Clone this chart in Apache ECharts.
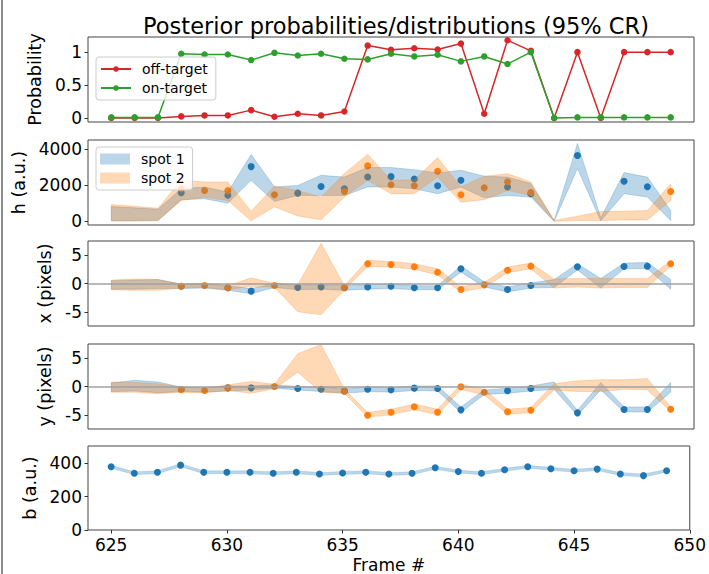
<!DOCTYPE html>
<html><head><meta charset="utf-8">
<script src="https://cdn.jsdelivr.net/npm/echarts@6/dist/echarts.min.js"></script>
<style>html,body{margin:0;padding:0;background:#fff}#c{width:709px;height:574px}</style>
</head><body><div id="c"></div>
<script>
const frames = [625,626,627,628,629,630,631,632,633,634,635,636,637,638,639,640,641,642,643,644,645,646,647,648,649];
const xTicks = [625,630,635,640,645,650];

// Panel 1: probabilities
const offTarget = [0.0,0.0,0.0,0.025,0.04,0.04,0.12,0.02,0.065,0.04,0.10,1.10,1.035,1.06,1.04,1.13,0.065,1.18,1.02,0.0,1.0,0.0,1.0,1.0,1.0];
const onTarget  = [0.01,0.01,0.01,0.975,0.965,0.965,0.88,0.99,0.95,0.975,0.90,0.89,0.975,0.935,0.96,0.86,0.935,0.82,1.0,0.0,0.01,0.01,0.01,0.01,0.01];
const probTicks = [0,0.5,1];

// Panel 2: h
const h1 = [null,null,null,1580,null,1440,3030,null,1560,1930,1800,2455,2475,2345,1970,2270,null,1900,1530,null,3645,null,2215,1915,null];
const h2 = [null,null,null,1800,1710,1700,null,1470,null,null,1650,3070,2030,1970,2770,1470,1860,2195,1600,null,null,null,null,null,1655];
const h1Lo = [30,30,40,1200,1250,1000,2270,1100,1430,1430,1430,1900,1900,1800,1530,1900,1300,1430,1340,0,2920,20,1530,1340,40];
const h1Hi = [820,745,670,1800,1900,1620,3700,1900,1990,2550,2450,2980,2980,2860,2680,2830,2500,2450,2080,50,4315,200,2700,2450,600];
const h2Lo = [20,20,40,1150,1340,1150,30,800,300,80,1350,2270,1530,1530,2455,1060,1200,1710,1430,0,40,40,75,75,1150];
const h2Hi = [930,840,725,2270,2180,2180,550,1950,1700,1330,2650,3720,2270,2300,3530,1900,2500,2640,2180,50,280,540,560,600,2080];
const hTicks = [0,2000,4000];

// Panel 3: x
const x1 = [null,null,null,-0.47,null,-0.76,-1.35,null,-0.7,-0.6,-0.76,-0.6,-0.47,-0.76,-0.76,2.6,null,-1.06,-0.35,null,2.94,null,3.0,3.06,null];
const x2 = [null,null,null,-0.47,-0.35,-0.76,null,-0.35,null,null,-0.76,3.5,3.35,2.94,2.0,-1.06,-0.24,2.35,3.06,null,null,null,null,null,3.47];
const x1Lo = [-1.0,-1.0,-0.9,-0.9,-0.8,-1.2,-1.8,-0.7,-1.1,-1.0,-1.2,-1.0,-0.9,-1.1,-1.1,2.0,-0.6,-1.5,-0.8,-0.7,2.4,-0.8,2.6,2.6,-1.0];
const x1Hi = [0.5,0.6,0.7,-0.1,0.0,-0.4,-0.9,0.0,-0.3,-0.2,-0.4,-0.2,-0.1,-0.4,-0.4,3.1,0.3,-0.6,0.1,0.7,3.5,0.9,3.6,3.7,0.7];
const x2Lo = [-1.1,-1.2,-1.2,-0.8,-0.7,-1.1,-0.5,-0.7,-5.0,-5.5,-1.1,3.0,2.9,2.5,1.5,-1.5,-0.7,1.9,2.6,-0.8,-0.6,-0.8,-0.7,-0.7,3.1];
const x2Hi = [0.6,0.8,0.7,-0.1,0.0,-0.4,1.0,0.0,-0.2,7.1,-0.4,4.1,3.9,3.5,2.6,-0.6,0.2,2.9,3.6,0.8,0.9,0.9,0.9,0.9,4.0];
const xyTicks = [-5,0,5];

// Panel 4: y
const y1 = [null,null,null,-0.53,null,-0.24,-0.24,null,-0.35,-0.47,-0.82,-0.47,-0.59,-0.29,-0.35,-4.12,null,-0.76,-0.35,null,-4.65,null,-4.06,-4.06,null];
const y2 = [null,null,null,-0.53,-0.7,-0.24,null,0.0,null,null,-0.82,-5.06,-4.53,-3.59,-4.53,-0.06,-1.0,-4.47,-4.18,null,null,null,null,null,-4.0];
const y1Lo = [-0.9,-0.8,-1.1,-0.9,-1.0,-0.8,-0.6,-0.3,-0.6,-0.9,-1.2,-0.9,-1.0,-0.7,-0.8,-4.6,-1.4,-1.2,-0.8,-0.5,-5.1,-0.6,-4.5,-4.5,-1.0];
const y1Hi = [0.6,1.1,0.8,-0.1,-0.2,0.1,0.1,0.3,0.0,-0.1,-0.4,-0.1,-0.2,0.1,0.1,-3.6,-0.6,-0.3,0.1,0.8,-4.2,0.7,-3.6,-3.6,0.7];
const y2Lo = [-1.0,-1.0,-1.3,-1.0,-1.1,-0.7,-1.2,-0.4,2.5,-1.0,-1.2,-5.4,-5.0,-4.1,-5.0,-0.5,-1.5,-4.9,-4.6,-0.6,-0.9,-0.9,-0.5,-0.6,-4.4];
const y2Hi = [0.8,0.7,0.5,-0.1,-0.3,0.3,0.9,0.4,5.8,7.4,-0.5,-4.6,-4.0,-3.1,-4.0,0.4,-0.5,-4.0,-3.7,0.5,1.0,1.2,1.2,1.4,-3.6];

// Panel 5: b
const bVal = [380,341,347,390,347,347,347,341,347,337,343,347,337,341,374,352,341,362,380,368,356,366,337,327,356];
const bLo  = [371,332,338,381,338,338,338,332,338,328,334,338,328,332,365,343,332,353,371,359,347,357,328,318,347];
const bHi  = [389,350,356,399,356,356,356,350,356,346,352,356,346,350,383,361,350,371,389,377,365,375,346,336,365];
const bTicks = [0,200,400];

const FONT = 'DejaVu Sans';
const BLUE = '#1f77b4', ORANGE = '#ff7f0e', RED = '#d62728', GREEN = '#2ca02c';
const BLUE_A = 'rgba(31,119,180,0.3)', ORANGE_A = 'rgba(255,127,14,0.3)';

const tops = [37, 140, 241, 344, 446];
const grids = tops.map(t => ({left: 88, width: 606, top: t, height: 85, show: true,
  borderColor: '#444', borderWidth: 1, backgroundColor: 'transparent'}));

const xAxes = tops.map((t, i) => ({
  type: 'value', gridIndex: i, min: 624, max: 650,
  axisLine: {show: false, onZero: false},
  splitLine: {show: false},
  axisTick: {show: i === 4, length: 3.5, lineStyle: {color: '#333'}, customValues: xTicks},
  axisLabel: {show: i === 4, customValues: xTicks, margin: 6, fontSize: 17, color: '#000', fontFamily: FONT},
  name: i === 4 ? 'Frame #' : '', nameLocation: 'middle', nameGap: 26,
  nameTextStyle: {fontSize: 17, color: '#000', fontFamily: FONT}
}));

function yAx(i, min, max, ticks, name, gap) {
  return {
    type: 'value', gridIndex: i, min: min, max: max,
    axisLine: {show: false, onZero: false},
    splitLine: {show: false},
    axisTick: {show: true, length: 3.5, lineStyle: {color: '#333'}, customValues: ticks},
    axisLabel: {customValues: ticks, margin: 6, fontSize: 17, color: '#000', fontFamily: FONT,
      formatter: v => String(v)},
    name: name, nameLocation: 'middle', nameRotate: 90, nameGap: gap,
    nameTextStyle: {fontSize: 17.5, color: '#000', fontFamily: FONT}
  };
}
const yAxes = [
  yAx(0, -0.06, 1.23, probTicks, 'Probability', 34),
  yAx(1, -205, 4505, hTicks, 'h (a.u.)', 54),
  yAx(2, -7.5, 7.5, xyTicks, 'x (pixels)', 20),
  yAx(3, -7.5, 7.5, xyTicks, 'y (pixels)', 20),
  yAx(4, 0, 505, bTicks, 'b (a.u.)', 46)
];

function pts(arr) {
  return frames.map((f, i) => [f, arr[i]]).filter(p => p[1] !== null);
}
function scatter(name, arr, color, idx, extra) {
  return Object.assign({
    name: name, type: 'scatter', xAxisIndex: idx, yAxisIndex: idx, z: 2,
    symbol: 'circle', symbolSize: 7, itemStyle: {color: color, opacity: 1},
    data: pts(arr), silent: true
  }, extra || {});
}
// Credible-region band drawn as one polygon through the axis scales (api.coord)
function band(name, lo, hi, color, idx, edge) {
  return {
    name: name, type: 'custom', xAxisIndex: idx, yAxisIndex: idx, z: 3, silent: true,
    itemStyle: {color: color},
    encode: {x: 0, y: [1, 2]},
    data: frames.map((f, i) => [f, lo[i], hi[i]]),
    renderItem: function (params, api) {
      if (params.dataIndex !== 0) return null;
      const upper = frames.map((f, i) => api.coord([f, hi[i]]));
      const lower = frames.map((f, i) => api.coord([f, lo[i]])).reverse();
      return {type: 'polygon', shape: {points: upper.concat(lower)},
        style: {fill: color, stroke: color, lineWidth: edge}};
    }
  };
}
const zeroLine = {silent: true, symbol: 'none', label: {show: false},
  lineStyle: {color: '#a0a0a0', width: 1.5, type: 'solid'}, data: [{yAxis: 0}]};

const series = [
  {name: 'off-target', type: 'line', xAxisIndex: 0, yAxisIndex: 0, z: 2,
   symbol: 'circle', symbolSize: 6.5, showSymbol: true, silent: true,
   itemStyle: {color: RED}, lineStyle: {color: RED, width: 1.5},
   data: frames.map((f, i) => [f, offTarget[i]])},
  {name: 'on-target', type: 'line', xAxisIndex: 0, yAxisIndex: 0, z: 2,
   symbol: 'circle', symbolSize: 6.5, showSymbol: true, silent: true,
   itemStyle: {color: GREEN}, lineStyle: {color: GREEN, width: 1.5},
   data: frames.map((f, i) => [f, onTarget[i]])},

  scatter('h spot 1', h1, BLUE, 1),
  scatter('h spot 2', h2, ORANGE, 1),
  band('spot 1', h1Lo, h1Hi, BLUE_A, 1, 0.8),
  band('spot 2', h2Lo, h2Hi, ORANGE_A, 1, 0.8),

  scatter('x spot 1', x1, BLUE, 2, {markLine: zeroLine}),
  scatter('x spot 2', x2, ORANGE, 2),
  band('x band 1', x1Lo, x1Hi, BLUE_A, 2, 0.8),
  band('x band 2', x2Lo, x2Hi, ORANGE_A, 2, 0.8),

  scatter('y spot 1', y1, BLUE, 3, {markLine: zeroLine}),
  scatter('y spot 2', y2, ORANGE, 3),
  band('y band 1', y1Lo, y1Hi, BLUE_A, 3, 0.8),
  band('y band 2', y2Lo, y2Hi, ORANGE_A, 3, 0.8),

  scatter('b', bVal, BLUE, 4),
  band('b band', bLo, bHi, BLUE_A, 4, 0.5)
];

const legendCommon = {
  orient: 'vertical', itemWidth: 30, itemGap: 5, selectedMode: false,
  textStyle: {fontSize: 14, color: '#000', fontFamily: FONT, padding: [0, 0, 0, 6]},
  borderColor: '#cccccc', borderWidth: 1, borderRadius: 3,
  backgroundColor: 'rgba(255,255,255,0.8)', z: 20
};

const option = {
  animation: false,
  backgroundColor: '#fff',
  title: {text: 'Posterior probabilities/distributions (95% CR)', left: 391, textAlign: 'center', top: 9,
    textStyle: {fontSize: 22.5, fontWeight: 'normal', color: '#000', fontFamily: FONT}},
  grid: grids, xAxis: xAxes, yAxis: yAxes, series: series,
  legend: [
    Object.assign({}, legendCommon, {left: 96, top: 57, itemHeight: 7, padding: [5, 8, 5, 4],
      data: ['off-target', 'on-target']}),
    Object.assign({}, legendCommon, {left: 96, top: 147, itemHeight: 11, padding: [5, 8, 5, 4],
      data: [{name: 'spot 1', icon: 'rect', itemStyle: {color: BLUE_A}},
             {name: 'spot 2', icon: 'rect', itemStyle: {color: ORANGE_A}}]})
  ],
  graphic: [{type: 'line', shape: {x1: 2, y1: 0, x2: 2, y2: 574}, style: {stroke: '#666', lineWidth: 1.5}, silent: true}]
};

const chart = echarts.init(document.getElementById('c'), null, {renderer: 'svg'});
chart.setOption(option);
</script>
</body></html>
